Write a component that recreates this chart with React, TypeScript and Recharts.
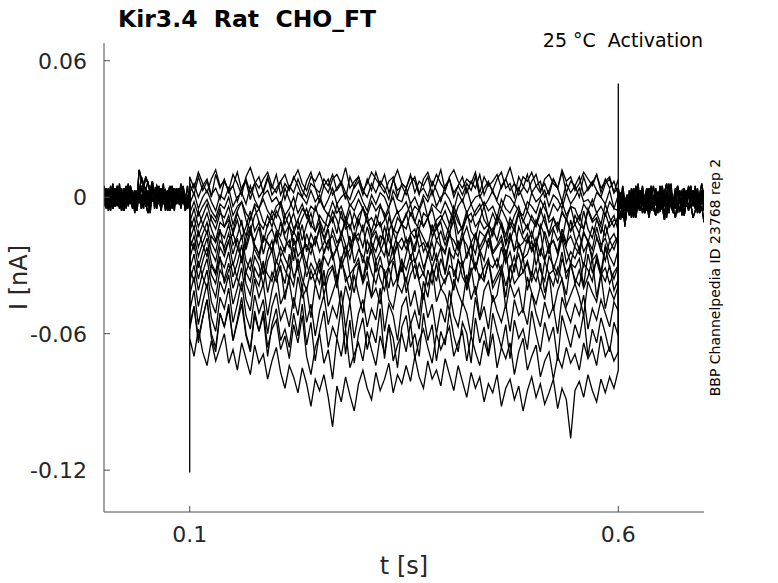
import { LineChart, Line, XAxis, YAxis } from "recharts";

const AXIS_COLOR = "#4d4d4d";
const TEXT_COLOR = "#262626";
const FONT = "DejaVu Sans, sans-serif";

const X_DOMAIN = [0, 0.7];
const Y_DOMAIN = [-0.1384, 0.0678];
const X_TICKS = [0.1, 0.6];
const Y_TICKS = [-0.12, -0.06, 0, 0.06];

// all currents below in pA

// holding segment before the step (0 .. 0.1 s)
const PRE_A = [2, -3, 4, -1, 5, -4, 1, 3, -2, 4, -3, 0, 5, -2, 2, -4, 3, -1, 4, -3, 1, -2, 5, 0, -3, 3, -1, 4, -4, 2, -2, 5, -1, 3, -3, 1, 4, -2, 0, 3];
const PRE_B = [-4, 1, -2, 3, -5, 0, 2, -3, 1, -6, 0, -2, 3, -4, 1, -1, 12, 8, 4, 9, 6, 3, 7, 2, 5, 1, 4, -1, 3, 0, 2, -2, 4, -3, 1, -1, 3, -4, 0, 2];
const PRE_C = [3, -1, -5, 2, -3, 4, -2, 0, -6, 1, -3, 3, -1, -4, 2, -2, 4, -5, 0, -3, -7, 1, -2, 3, -4, 0, -6, 2, -1, -3, 3, -5, 0, -2, 4, -4, 1, -6, -1, 2];
const PRE_D = [-1, 4, 0, -3, 3, -2, 5, -4, 2, -1, 4, -3, 1, -5, 3, 0, -2, 5, -1, 2, -4, 3, -2, 1, -5, 4, 0, -3, 2, -6, 1, 3, -2, 4, -1, -4, 2, 0, -3, 1];
const PRE_E = [5, -2, 1, -6, 3, 0, -4, 6, -1, 2, -5, 4, -3, 1, -7, 2, 5, -2, 0, -4, 3, -1, 6, -5, 1, -3, 4, 0, -6, 2, 5, -2, -4, 3, -1, 6, -3, 1, -5, 0];
const PRE_F = [-2, 3, -6, 0, 4, -3, 1, -5, 2, -1, 5, -4, 0, 3, -2, -6, 2, 9, 6, 3, 7, 1, 5, -2, 4, 0, -3, 3, -5, 1, -1, 4, -4, 2, -2, 5, -3, 0, -5, 3];
const PRE_G = [0, -5, 3, -2, 6, -4, 1, -1, 4, -6, 2, -3, 5, 0, -4, 3, -2, 1, -5, 4, -1, -7, 2, 0, -3, 5, -4, 1, -2, 3, -6, 0, 4, -3, 2, -5, 1, -1, 5, -4];
const PRE_H = [4, 0, -3, 5, -5, 2, -2, 3, -4, 1, -1, 6, -3, 2, -6, 0, 4, -4, 3, -2, 1, -5, 5, -1, 2, -3, 0, 6, -4, 3, -2, 1, -6, 4, 0, -3, 5, -1, -5, 2];

// holding segment after the step (0.6 .. 0.7 s)
const POST_A = [4, -2, 3, -5, 1, -8, 2, -3, 5, -1, 3, -4, 0, 4, -2, 5, -3, 1, -1, 4, -4, 2, 6, -2, 3, -3, 1, 5, -1, 2, -4, 3, 0, 5, -2, 4, -3, 1, 6, -1];
const POST_B = [-6, -10, -3, -12, -5, -1, -8, -4, -9, -2, -6, 0, -7, -3, -9, -1, -5, -8, -2, -6, -4, -10, -3, -7, 0, -5, -9, -2, -6, -4, -8, -1, -5, -3, -9, -6, -2, -7, -4, -11];
const POST_C = [1, -4, 2, -6, 0, -3, 3, -5, -1, 2, -2, 4, -4, 1, -3, 3, -6, 0, 2, -2, 5, -3, 1, -4, 2, -1, -5, 3, 0, -2, 4, -4, 1, -1, 3, -5, 2, -3, 0, 1];
const POST_D = [-3, 2, -7, -1, -4, 1, -9, -2, 0, -5, 2, -3, -1, -6, 3, -2, -4, 1, -7, -1, -3, 3, -5, 0, -2, -6, 2, -4, -1, -8, 1, -3, -5, 2, -2, -4, 0, -6, -1, -3];
const POST_E = [-5, 1, -9, -2, -6, 3, -4, 0, -7, 2, -3, 5, -5, -1, -8, 1, -4, 4, -2, -6, 0, -9, 3, -3, -1, -5, 2, -7, 1, -4, 4, -2, -6, 0, -3, 5, -5, -1, 2, -4];
const POST_F = [2, -5, 0, -13, -3, 1, -6, 4, -2, -4, 3, -1, -7, 2, -5, 0, 5, -3, -1, -6, 2, -4, 1, -2, 6, -5, 0, -3, 3, -7, 1, -1, 4, -4, -2, 2, -6, 0, 3, -3];
const POST_G = [-1, -8, -4, -11, -2, -6, 0, -9, -3, -5, 1, -7, -2, -4, 3, -6, -1, -8, 0, -3, -5, 2, -9, -2, -4, -7, 1, -3, -6, 0, -8, -2, -5, 3, -4, -1, -7, -3, 0, -6];
const POST_H = [3, -3, 5, -2, 1, -4, 4, 0, -1, 6, -3, 2, -5, 1, 4, -2, 0, 3, -4, 5, -1, 2, -3, 6, 0, -2, 4, -5, 1, 3, -4, 0, 5, -1, 2, -3, 4, -2, 0, 3];

// step segments (0.1 .. 0.6 s), one per voltage step, top to bottom
const STEP_01 = [9, 4, 11, 6, 2, 8, 12, 5, 7, 3, 10, 6, 1, 9, 13, 7, 4, 8, 11, 5, 2, 7, 10, 4, 8, 12, 6, 3, 9, 7, 11, 5, 2, 8, 10, 6, 13, 4, 7, 9, 3, 6, 11, 8, 5, 10, 2, 7, 12, 6, 4, 9, 7, 1, 8, 11, 5, 10, 6, 3, 9, 12, 7, 4, 8, 6, 11, 2, 9, 5, 7, 10, 4, 8, 13, 6, 3, 9, 7, 11, 5, 2, 8, 10, 6, 4, 12, 7, 9, 3, 6, 11, 8, 5, 10, 4, 7, 9, 2, 8];
const STEP_02 = [6, 1, 9, 3, 7, 0, 10, 4, 8, 2, 5, 11, 3, 7, -1, 6, 9, 2, 8, 4, 10, 1, 6, 3, 9, 5, 0, 7, 11, 4, 2, 8, 5, 10, 3, 6, -1, 9, 4, 7, 1, 8, 3, 11, 5, 2, 7, 9, 0, 6, 4, 10, 2, 7, 5, 9, 1, 6, 12, 3, 8, 0, 5, 9, 2, 7, 4, 10, 1, 6, 3, 8, 11, 4, 6, 0, 9, 5, 2, 7, 10, 3, 6, 1, 8, 4, 11, 2, 7, 5, 0, 9, 3, 6, 10, 2, 8, 4, 7, 1];
const STEP_03 = [2, 6, 0, 5, 8, 1, 4, -1, 7, 3, 5, -2, 4, 8, 2, 6, 0, 3, 9, 1, 4, 7, -1, 5, 2, 8, 3, 0, 6, 4, -2, 5, 8, 1, 4, 7, 2, -1, 5, 9, 3, 0, 6, 2, 7, 4, -1, 8, 3, 5, 1, 6, 9, 2, 4, 0, 7, 3, -2, 5, 8, 2, 5, 1, 6, 3, 9, 0, 4, 7, 2, -1, 5, 8, 3, 6, 1, 4, 10, 2, 5, 7, 0, 3, 8, 4, -2, 6, 2, 5, 9, 1, 4, 7, 3, 0, 6, 8, 2, 4];
const STEP_04 = [-3, 2, -5, 0, 3, -2, -6, 1, -1, 4, -4, 0, 2, -3, 5, -1, -5, 1, 3, -2, 0, -4, 4, -1, -6, 2, 0, -3, 3, -2, 1, -5, -1, 4, -3, 0, 2, -4, -1, 3, -2, -6, 1, -3, 2, 0, -5, 3, -1, -2, 4, -3, 0, -5, 1, -2, 3, -4, 0, 2, -1, -6, 2, -2, 4, -3, 0, 1, -4, -1, 3, -2, -5, 1, 0, -3, 4, -1, -6, 2, -2, 0, 3, -4, 1, -1, -5, 2, -3, 0, 4, -2, -1, -4, 2, 0, -3, 3, -5, 1];
const STEP_05 = [-7, -2, -8, -4, -1, -6, -9, -3, -5, 0, -8, -4, -2, -7, -10, -3, -5, -1, -6, -9, -4, -2, -8, -5, 0, -7, -3, -9, -4, -6, -1, -5, -8, -2, -7, -4, -10, -3, -6, -1, -5, -8, -2, -6, -3, -9, -4, 0, -7, -5, -2, -8, -4, -6, -1, -9, -3, -5, -7, -2, -6, -10, -4, -1, -7, -3, -8, -5, -2, -6, -4, -9, -1, -5, -7, -3, -6, -8, -2, -4, -7, -1, -5, -9, -3, -6, -2, -8, -4, -5, -10, -3, -6, -1, -7, -4, -8, -2, -5, -6];
const STEP_06 = [-11, -5, -13, -8, -3, -10, -14, -7, -9, -4, -12, -6, -2, -10, -15, -8, -5, -11, -13, -6, -9, -3, -12, -7, -14, -10, -5, -8, -13, -4, -10, -15, -7, -11, -3, -9, -12, -6, -14, -8, -5, -11, -9, -13, -4, -7, -15, -10, -6, -12, -8, -3, -11, -14, -7, -9, -5, -13, -10, -6, -12, -4, -9, -15, -8, -11, -6, -3, -10, -13, -7, -12, -5, -9, -14, -8, -4, -11, -6, -10, -13, -7, -2, -11, -9, -15, -6, -10, -4, -12, -8, -14, -5, -10, -7, -12, -3, -9, -13, -8];
const STEP_07 = [-9, -14, -6, -12, -16, -8, -11, -5, -13, -10, -15, -7, -12, -17, -9, -4, -11, -14, -8, -13, -6, -10, -16, -12, -7, -14, -9, -5, -12, -15, -8, -11, -13, -6, -10, -17, -9, -14, -7, -12, -4, -11, -15, -8, -13, -10, -6, -16, -9, -12, -14, -7, -11, -5, -13, -9, -15, -10, -8, -12, -16, -6, -11, -14, -9, -7, -13, -10, -4, -12, -15, -8, -11, -17, -9, -13, -6, -10, -14, -8, -12, -5, -11, -16, -9, -13, -7, -10, -15, -8, -12, -14, -6, -11, -9, -16, -7, -13, -10, -11];
const STEP_08 = [-15, -9, -17, -12, -7, -14, -19, -11, -13, -8, -16, -10, -18, -13, -6, -15, -11, -20, -12, -9, -14, -17, -8, -13, -16, -10, -19, -12, -7, -15, -11, -18, -13, -9, -16, -6, -14, -12, -19, -10, -15, -8, -17, -13, -11, -20, -9, -14, -16, -12, -7, -15, -18, -10, -13, -9, -17, -14, -11, -19, -12, -8, -16, -13, -6, -15, -18, -10, -14, -12, -17, -9, -13, -20, -11, -15, -7, -16, -12, -18, -10, -14, -8, -17, -13, -11, -19, -9, -15, -12, -16, -6, -14, -18, -10, -13, -17, -11, -8, -15];
const STEP_09 = [-19, -13, -22, -16, -11, -20, -24, -15, -18, -12, -21, -17, -10, -23, -16, -19, -13, -25, -17, -14, -20, -11, -18, -22, -15, -19, -12, -24, -16, -21, -13, -18, -23, -14, -20, -17, -10, -22, -16, -19, -12, -25, -18, -15, -21, -13, -19, -23, -16, -11, -20, -17, -24, -14, -18, -22, -12, -19, -15, -21, -16, -10, -23, -18, -13, -20, -25, -15, -17, -22, -14, -19, -11, -21, -16, -24, -13, -18, -20, -15, -22, -12, -17, -25, -14, -19, -16, -21, -10, -18, -23, -15, -20, -13, -17, -24, -12, -19, -16, -21];
const STEP_10 = [-18, -23, -15, -21, -26, -17, -20, -14, -24, -19, -16, -22, -27, -18, -13, -21, -25, -17, -20, -23, -15, -19, -24, -12, -21, -18, -26, -16, -22, -20, -14, -25, -19, -17, -23, -15, -21, -27, -18, -16, -22, -13, -20, -24, -17, -19, -26, -15, -21, -18, -23, -16, -14, -22, -20, -25, -18, -12, -21, -24, -17, -19, -23, -15, -27, -20, -16, -22, -18, -14, -24, -21, -17, -25, -19, -13, -22, -20, -16, -23, -18, -26, -15, -21, -19, -24, -14, -20, -17, -22, -25, -16, -19, -23, -13, -21, -18, -24, -20, -17];
const STEP_11 = [-23, -17, -26, -20, -15, -24, -28, -19, -22, -16, -25, -18, -29, -21, -14, -23, -27, -18, -20, -24, -16, -26, -22, -19, -28, -15, -23, -21, -25, -17, -24, -20, -14, -27, -22, -18, -26, -23, -16, -21, -29, -19, -24, -17, -22, -26, -15, -25, -20, -23, -18, -27, -21, -16, -24, -20, -28, -19, -22, -25, -15, -23, -26, -18, -21, -27, -17, -24, -20, -14, -25, -22, -19, -28, -16, -23, -21, -26, -18, -24, -20, -15, -27, -22, -19, -25, -17, -23, -29, -21, -16, -24, -20, -26, -18, -22, -28, -19, -23, -17];
const STEP_12 = [-27, -20, -31, -24, -18, -29, -33, -22, -26, -19, -30, -23, -17, -28, -32, -21, -25, -34, -24, -19, -29, -22, -27, -31, -18, -26, -23, -30, -20, -28, -33, -24, -19, -27, -22, -31, -25, -17, -29, -23, -26, -32, -20, -28, -24, -19, -30, -27, -21, -33, -25, -18, -29, -23, -31, -26, -20, -28, -22, -34, -24, -27, -19, -30, -25, -21, -32, -23, -28, -18, -26, -31, -22, -29, -24, -33, -20, -27, -25, -19, -30, -23, -28, -21, -32, -26, -18, -29, -24, -27, -22, -31, -19, -28, -25, -33, -21, -26, -30, -23];
const STEP_13 = [-32, -25, -36, -28, -22, -34, -38, -27, -31, -24, -35, -29, -21, -33, -37, -26, -30, -39, -28, -23, -34, -27, -32, -36, -22, -31, -25, -35, -29, -33, -38, -26, -30, -24, -36, -28, -21, -34, -31, -27, -37, -29, -23, -33, -26, -35, -30, -22, -38, -28, -32, -25, -36, -29, -34, -24, -31, -37, -27, -33, -22, -35, -28, -30, -39, -26, -32, -24, -36, -29, -31, -27, -34, -23, -38, -30, -25, -33, -28, -35, -21, -32, -37, -26, -30, -34, -24, -36, -29, -31, -27, -39, -25, -33, -28, -35, -22, -31, -36, -30];
const STEP_14 = [-31, -37, -28, -35, -40, -30, -34, -26, -38, -32, -29, -36, -41, -33, -27, -35, -39, -30, -34, -37, -28, -32, -38, -25, -35, -31, -40, -29, -36, -33, -27, -39, -32, -30, -37, -28, -34, -41, -31, -29, -36, -26, -33, -38, -30, -32, -40, -28, -35, -31, -37, -29, -27, -36, -33, -39, -31, -25, -34, -38, -30, -32, -37, -28, -41, -33, -29, -36, -31, -27, -38, -34, -30, -39, -32, -26, -35, -33, -29, -37, -31, -40, -28, -34, -32, -38, -27, -33, -30, -36, -39, -29, -32, -37, -26, -34, -31, -38, -33, -30];
const STEP_15 = [-37, -30, -41, -33, -27, -39, -44, -32, -36, -29, -40, -34, -26, -38, -43, -31, -35, -28, -42, -33, -37, -30, -45, -34, -39, -27, -36, -41, -32, -38, -29, -43, -35, -31, -40, -26, -37, -34, -42, -30, -38, -33, -44, -28, -36, -41, -31, -39, -35, -27, -42, -34, -30, -37, -45, -32, -38, -29, -40, -36, -33, -41, -27, -35, -39, -31, -43, -34, -37, -28, -40, -36, -32, -44, -30, -38, -35, -26, -41, -33, -37, -29, -42, -34, -39, -31, -36, -43, -28, -38, -32, -40, -35, -27, -44, -33, -37, -30, -41, -36];
const STEP_16 = [-43, -35, -48, -39, -32, -46, -51, -37, -42, -34, -47, -40, -31, -45, -50, -36, -44, -38, -52, -41, -33, -47, -42, -37, -49, -35, -44, -40, -53, -38, -45, -32, -48, -42, -36, -50, -39, -46, -34, -43, -51, -37, -44, -40, -47, -33, -45, -49, -38, -42, -35, -48, -41, -52, -37, -44, -31, -46, -40, -43, -50, -36, -42, -47, -34, -45, -39, -53, -41, -37, -46, -43, -32, -49, -38, -44, -40, -51, -35, -42, -47, -39, -45, -33, -50, -41, -36, -48, -43, -38, -44, -52, -37, -42, -46, -34, -49, -40, -45, -39];
const STEP_17 = [-50, -41, -56, -46, -38, -53, -59, -44, -49, -40, -55, -47, -37, -52, -58, -43, -51, -45, -60, -48, -42, -54, -49, -57, -44, -52, -39, -55, -47, -61, -50, -43, -56, -48, -53, -41, -58, -46, -62, -51, -45, -57, -49, -54, -40, -59, -47, -52, -63, -48, -44, -56, -50, -58, -42, -53, -47, -60, -49, -55, -41, -52, -57, -46, -51, -61, -44, -54, -48, -58, -43, -50, -55, -47, -59, -45, -52, -49, -56, -42, -51, -57, -46, -53, -48, -60, -44, -50, -55, -47, -52, -43, -58, -49, -54, -45, -51, -57, -46, -50];
const STEP_18 = [-58, -48, -64, -53, -45, -62, -68, -51, -57, -47, -63, -54, -44, -60, -67, -50, -59, -52, -70, -56, -49, -63, -58, -66, -51, -61, -47, -65, -55, -72, -59, -50, -66, -57, -62, -48, -69, -54, -73, -60, -53, -67, -58, -64, -49, -71, -56, -62, -75, -57, -52, -66, -60, -70, -51, -63, -56, -72, -59, -65, -50, -61, -68, -55, -60, -73, -53, -64, -57, -69, -51, -59, -66, -56, -71, -54, -62, -58, -67, -50, -60, -68, -55, -63, -57, -72, -52, -59, -66, -56, -62, -51, -70, -58, -64, -53, -60, -68, -55, -61];
const STEP_19 = [-56, -48, -62, -53, -45, -60, -66, -51, -57, -49, -63, -55, -47, -61, -68, -52, -59, -50, -66, -58, -54, -67, -61, -71, -56, -64, -52, -70, -78, -66, -60, -73, -67, -80, -62, -70, -58, -75, -69, -64, -72, -59, -67, -74, -61, -69, -56, -72, -65, -60, -68, -55, -71, -63, -58, -66, -73, -60, -67, -62, -57, -70, -64, -59, -72, -61, -68, -74, -63, -70, -60, -75, -66, -71, -64, -78, -68, -62, -76, -70, -65, -79, -72, -68, -80, -70, -75, -66, -73, -69, -76, -64, -71, -67, -74, -61, -70, -66, -72, -68];
const STEP_20 = [-62, -70, -58, -68, -74, -63, -72, -66, -60, -73, -67, -76, -64, -71, -78, -65, -73, -69, -80, -72, -66, -77, -84, -74, -79, -86, -75, -82, -92, -80, -85, -78, -88, -101, -83, -90, -79, -87, -94, -82, -76, -84, -89, -77, -85, -80, -73, -86, -78, -82, -74, -81, -70, -79, -84, -72, -80, -76, -83, -71, -78, -85, -74, -81, -88, -77, -84, -79, -90, -82, -86, -78, -92, -84, -80, -89, -83, -94, -85, -79, -88, -82, -91, -86, -80, -93, -84, -89, -106, -85, -81, -88, -78, -85, -90, -80, -86, -79, -84, -76];

// capacitive transients
const ON_TRANSIENT = -121; // at 0.1 s, deepest step
const OFF_TRANSIENT = 50; // at 0.6 s, top step

const STEPS = [
  STEP_01, STEP_02, STEP_03, STEP_04, STEP_05, STEP_06, STEP_07, STEP_08, STEP_09, STEP_10,
  STEP_11, STEP_12, STEP_13, STEP_14, STEP_15, STEP_16, STEP_17, STEP_18, STEP_19, STEP_20,
];
const PRE = [PRE_A, PRE_B, PRE_C, PRE_D, PRE_E, PRE_F, PRE_G, PRE_H];
const POST = [POST_A, POST_B, POST_C, POST_D, POST_E, POST_F, POST_G, POST_H];

// samples are evenly spaced inside each segment
function sampled(values: number[], t0: number, t1: number) {
  const n = values.length;
  return values.map((pA, k) => ({ t: t0 + (k * (t1 - t0)) / (n - 1), v: pA / 1000 }));
}

const traces = STEPS.map((step, i) => {
  const pts = sampled(PRE[i % PRE.length], 0, 0.1);
  if (i === STEPS.length - 1) pts.push({ t: 0.1, v: ON_TRANSIENT / 1000 });
  pts.push(...sampled(step, 0.1, 0.6));
  if (i === 0) pts.push({ t: 0.6, v: OFF_TRANSIENT / 1000 });
  pts.push(...sampled(POST[i % POST.length], 0.6, 0.7));
  return pts;
});

function YTick({ x, y, payload }: any) {
  return (
    <g>
      <line x1={x} x2={x + 6} y1={y} y2={y} stroke={AXIS_COLOR} />
      <text x={x - 17} y={y + 8} textAnchor="end" fontSize={22} fontFamily={FONT} fill={TEXT_COLOR}>
        {String(payload.value)}
      </text>
    </g>
  );
}

function XTick({ x, y, payload }: any) {
  return (
    <g>
      <line x1={x} x2={x} y1={y} y2={y - 6} stroke={AXIS_COLOR} />
      <text x={x} y={y + 30} textAnchor="middle" fontSize={22} fontFamily={FONT} fill={TEXT_COLOR}>
        {String(payload.value)}
      </text>
    </g>
  );
}

export default function App() {
  return (
    <div style={{ position: "absolute", left: 0, top: 0, width: 778, height: 583, background: "#fff" }}>
      <LineChart width={778} height={583} margin={{ top: 43, right: 74, bottom: 0, left: 0 }}>
        <XAxis
          type="number"
          dataKey="t"
          domain={X_DOMAIN}
          ticks={X_TICKS}
          interval={0}
          allowDataOverflow
          height={71}
          axisLine={{ stroke: AXIS_COLOR }}
          tickLine={false}
          tickSize={0}
          tickMargin={0}
          tick={<XTick />}
        />
        <YAxis
          type="number"
          domain={Y_DOMAIN}
          ticks={Y_TICKS}
          interval={0}
          allowDataOverflow
          width={104}
          axisLine={{ stroke: AXIS_COLOR }}
          tickLine={false}
          tickSize={0}
          tickMargin={0}
          tick={<YTick />}
        />
        {traces.map((d, i) => (
          <Line
            key={i}
            data={d}
            dataKey="v"
            stroke="#000"
            strokeWidth={1.3}
            dot={false}
            isAnimationActive={false}
          />
        ))}
      </LineChart>
      <svg
        width={778}
        height={583}
        style={{ position: "absolute", left: 0, top: 0, pointerEvents: "none" }}
        fontFamily={FONT}
        fill={TEXT_COLOR}
      >
        <text x={118} y={27} fontSize={23.5} fontWeight="bold" fill="#000" style={{ whiteSpace: "pre" }}>
          {"Kir3.4  Rat  CHO_FT"}
        </text>
        <text x={703} y={47} fontSize={19} textAnchor="end" fill="#000" style={{ whiteSpace: "pre" }}>
          {"25 °C  Activation"}
        </text>
        <text x={404} y={574} fontSize={24} textAnchor="middle">
          t [s]
        </text>
        <text transform="translate(27,277.5) rotate(-90)" fontSize={24} textAnchor="middle">
          I [nA]
        </text>
        <text transform="translate(720,277.5) rotate(-90)" fontSize={14} textAnchor="middle" fill="#000">
          BBP Channelpedia ID 23768 rep 2
        </text>
      </svg>
    </div>
  );
}
